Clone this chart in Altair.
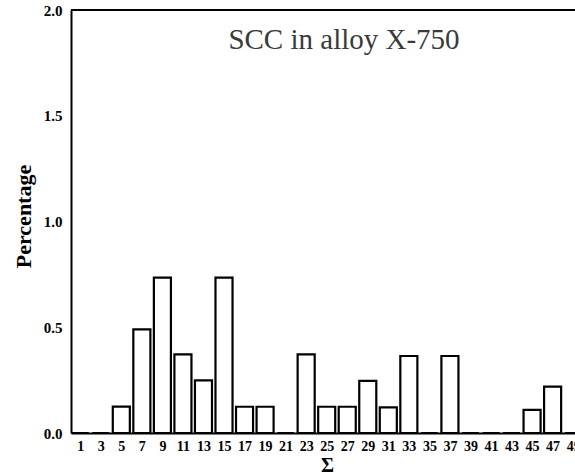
import altair as alt
import pandas as pd

sigma = [1, 3, 5, 7, 9, 11, 13, 15, 17, 19, 21, 23, 25, 27, 29, 31, 33, 35, 37, 39, 41, 43, 45, 47, 49]
percentage = [0, 0, 0.125, 0.49, 0.735, 0.372, 0.249, 0.735, 0.124, 0.124, 0, 0.372, 0.124, 0.124,
              0.246, 0.121, 0.364, 0, 0.364, 0, 0, 0, 0.109, 0.219, 0]
y_ticks = [0.0, 0.5, 1.0, 1.5, 2.0]
title_text = "SCC in alloy X-750"
half_width = 0.83

df = pd.DataFrame({"sigma": sigma, "pct": percentage})
df["lo"] = df["sigma"] - half_width
df["hi"] = df["sigma"] + half_width

W, H = 504, 423
FONT = "Liberation Serif"

xscale = alt.Scale(domain=[0.1, 49.18], nice=False, zero=False)
yscale = alt.Scale(domain=[0, 2.0], nice=False)

bars = alt.Chart(df).mark_bar(fill="white", stroke="black", strokeWidth=2.2).encode(
    x=alt.X("lo:Q", scale=xscale,
            axis=alt.Axis(values=sigma, title="Σ", format="d", ticks=False, grid=False,
                          labelFlush=False, labelOverlap=False, labelFont=FONT, labelFontSize=14,
                          labelFontWeight="bold", labelColor="black", labelPadding=6,
                          domainColor="black", domainWidth=2,
                          titleFont=FONT, titleFontSize=20, titleFontWeight="bold", titleColor="black",
                          titleX=256, titleY=32, titleBaseline="middle")),
    x2="hi:Q",
    y=alt.Y("pct:Q", scale=yscale,
            axis=alt.Axis(values=y_ticks, format=".1f", title="Percentage", ticks=False, grid=False,
                          labelFont=FONT, labelFontSize=15, labelFontWeight=600, labelColor="black",
                          labelPadding=9, domainColor="black", domainWidth=2,
                          titleFont=FONT, titleFontSize=22, titleFontWeight="bold", titleColor="black",
                          titleAngle=270, titleX=-48, titleY=206, titleAlign="center",
                          titleBaseline="middle")),
    y2=alt.datum(0),
)

top_line = alt.Chart(pd.DataFrame({"a": [0]})).mark_rule(color="black", strokeWidth=2).encode(
    x=alt.value(0), x2=alt.value(W), y=alt.value(0)
)

title = alt.Chart(pd.DataFrame({"t": [title_text]})).mark_text(
    font=FONT, fontSize=29, color="#3a3a3a", align="center", baseline="alphabetic"
).encode(text="t:N", x=alt.value(273), y=alt.value(39))

chart = alt.layer(bars, top_line, title).properties(
    width=W, height=H,
    autosize=alt.AutoSizeParams(type="none"),
    padding={"left": 71, "top": 10, "right": 0, "bottom": 43},
    background="white",
).configure_view(stroke=None)

chart.save("out.html", embed_options={"renderer": "svg", "actions": False})
